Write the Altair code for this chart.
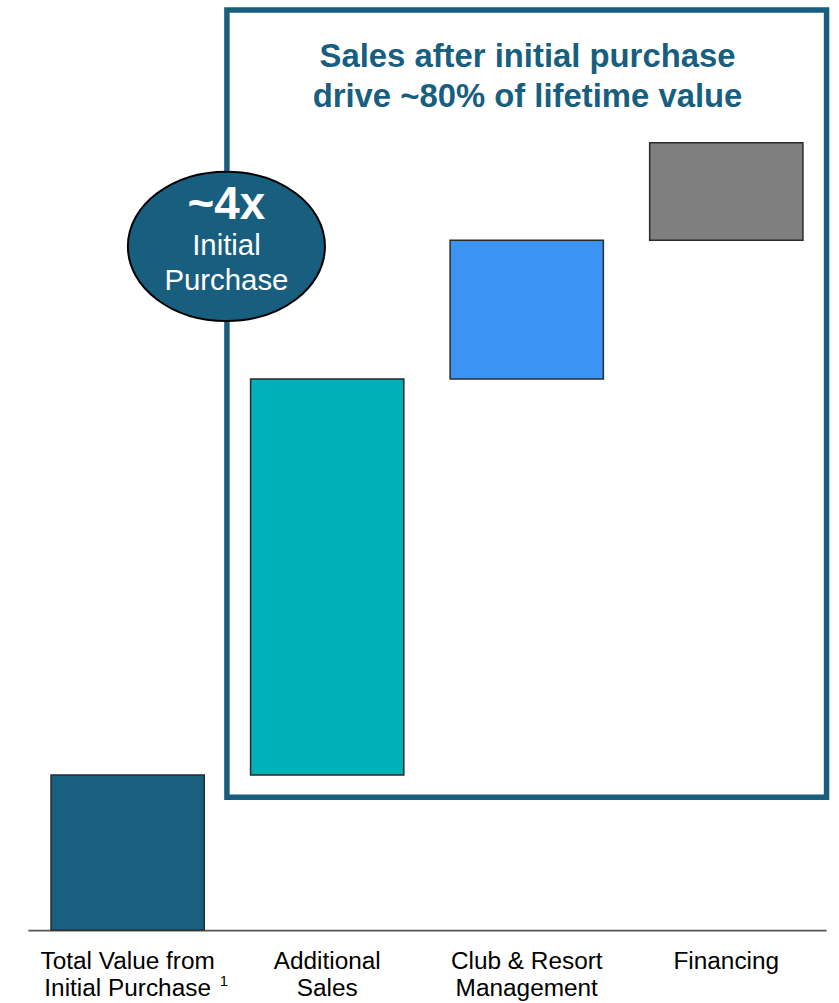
import altair as alt
import pandas as pd

# ---- data ----
categories = ["Total Value from|Initial Purchase", "Additional|Sales",
              "Club & Resort|Management", "Financing"]
values = [19.7, 50.3, 17.6, 12.4]          # share of lifetime value (%)
colors = ["#185F80", "#00B0B9", "#3B94F4", "#7F7F7F"]

title_lines = ["Sales after initial purchase", "drive ~80% of lifetime value"]
bubble_lines = ["~4x", "Initial", "Purchase"]
footnote = "1"

FONT = "Liberation Sans"
DARK = "#185E7F"

ends = pd.Series(values).cumsum()
df = pd.DataFrame({
    "cat": categories,
    "start": ends - pd.Series(values),
    "end": ends,
    "color": colors,
})

W, H = 802, 932

x_scale = alt.Scale(domain=categories, paddingInner=0.232, paddingOuter=0.116)
y_scale = alt.Scale(domain=[0, 117.8], nice=False, zero=True)

bars = alt.Chart(df).mark_bar(stroke="#2a2a2a", strokeWidth=1.5).encode(
    x=alt.X("cat:N", scale=x_scale, sort=categories, title=None,
            axis=alt.Axis(labelExpr="split(datum.value, '|')", labelAngle=0,
                          labelFont=FONT, labelFontSize=24.5, labelColor="#000000",
                          labelLineHeight=27, labelPadding=20, ticks=False,
                          domainColor="#555555", domainWidth=2, labelLimit=300)),
    y=alt.Y("start:Q", scale=y_scale, axis=None),
    y2="end:Q",
    color=alt.Color("color:N", scale=None),
)

one = pd.DataFrame({"k": [0]})

box = alt.Chart(one).mark_rect(fill="white", fillOpacity=0, stroke=DARK, strokeWidth=5.5).encode(
    x=alt.value(200), x2=alt.value(802.5), y=alt.value(7.5), y2=alt.value(798.5)
)

title_df = pd.DataFrame({"t": title_lines, "yy": [55, 95]})
title = alt.Chart(title_df).mark_text(font=FONT, fontSize=33, fontWeight="bold",
                                      color=DARK, baseline="middle", align="center").encode(
    x=alt.value(502), y=alt.Y("yy:Q", scale=None), text="t:N"
)

ellipse_path = "M -1 0 A 1 0.758 0 1 1 1 0 A 1 0.758 0 1 1 -1 0 Z"
bubble = alt.Chart(one).mark_point(shape=ellipse_path, size=198 * 198, filled=True,
                                   fill=DARK, fillOpacity=1, stroke="#000000",
                                   strokeWidth=2, opacity=1).encode(
    x=alt.value(199.5), y=alt.value(245)
)

bub_df = pd.DataFrame({"t": bubble_lines, "yy": [203, 245, 280]})
bub_big = alt.Chart(bub_df.iloc[:1]).mark_text(font=FONT, fontSize=46, fontWeight="bold",
                                               color="white", baseline="middle").encode(
    x=alt.value(199.5), y=alt.Y("yy:Q", scale=None), text="t:N"
)
bub_small = alt.Chart(bub_df.iloc[1:]).mark_text(font=FONT, fontSize=29.5,
                                                 color="white", baseline="middle").encode(
    x=alt.value(199.5), y=alt.Y("yy:Q", scale=None), text="t:N"
)

foot = alt.Chart(pd.DataFrame({"t": [footnote]})).mark_text(
    font=FONT, fontSize=15, color="#000000", baseline="middle").encode(
    x=alt.value(197), y=alt.value(983), text="t:N"
)

chart = alt.layer(box, bars, title, bubble, bub_big, bub_small, foot).properties(
    width=W, height=H,
    padding={"left": 28, "top": 0, "right": 9, "bottom": 71},
    background="white",
).configure_view(stroke=None).resolve_scale(y="independent")

chart.save("out.html", embed_options={"renderer": "svg", "actions": False})
